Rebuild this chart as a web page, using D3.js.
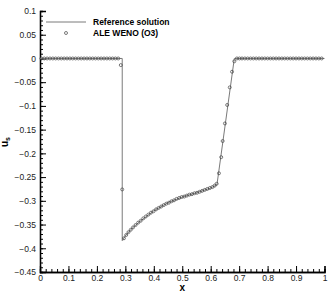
<!DOCTYPE html>
<html>
<head>
<meta charset="utf-8">
<script src="https://cdn.jsdelivr.net/npm/d3@7"></script>
<style>
  body { margin: 0; background: #fff; }
  text { font-family: "Liberation Sans", Arial, sans-serif; }
</style>
</head>
<body>
<script>
// reference solution (line)
var refX = [0, 0.289, 0.289, 0.30, 0.32, 0.35, 0.40, 0.45, 0.50, 0.55, 0.60, 0.622, 0.683, 1];
var refU = [0, 0, -0.384, -0.374, -0.36, -0.344, -0.321, -0.304, -0.292, -0.283, -0.273, -0.266, 0, 0];

// ALE WENO (O3) markers
var weX = [0.005, 0.015, 0.025, 0.035, 0.045, 0.055, 0.065, 0.075, 0.085, 0.095,
  0.105, 0.115, 0.125, 0.135, 0.145, 0.155, 0.165, 0.175, 0.185, 0.195,
  0.205, 0.215, 0.225, 0.235, 0.245, 0.255, 0.265, 0.275, 0.284, 0.289,
  0.295, 0.303, 0.311, 0.319, 0.327, 0.336, 0.345, 0.354, 0.363, 0.372,
  0.381, 0.390, 0.399, 0.408, 0.417, 0.426, 0.435, 0.444, 0.453, 0.462,
  0.471, 0.480, 0.489, 0.498, 0.507, 0.516, 0.525, 0.534, 0.543, 0.552,
  0.561, 0.570, 0.579, 0.588, 0.597, 0.606, 0.614, 0.621, 0.629, 0.637,
  0.642, 0.650, 0.658, 0.667, 0.675, 0.683, 0.692, 0.701, 0.71, 0.72,
  0.73, 0.74, 0.75, 0.76, 0.77, 0.78, 0.79, 0.80, 0.81, 0.82,
  0.83, 0.84, 0.85, 0.86, 0.87, 0.88, 0.89, 0.90, 0.91, 0.92,
  0.93, 0.94, 0.95, 0.96, 0.97, 0.98, 0.99];
var weU = [0, 0, 0, 0, 0, 0, 0, 0, 0, 0,
  0, 0, 0, 0, 0, 0, 0, 0, 0, 0,
  0, 0, 0, 0, 0, 0, 0, 0, -0.014, -0.276,
  -0.379, -0.372, -0.366, -0.361, -0.356, -0.351, -0.346, -0.342, -0.337, -0.333,
  -0.329, -0.325, -0.322, -0.318, -0.315, -0.312, -0.309, -0.306, -0.304, -0.301,
  -0.299, -0.296, -0.294, -0.292, -0.291, -0.289, -0.287, -0.286, -0.284, -0.283,
  -0.281, -0.279, -0.277, -0.275, -0.273, -0.271, -0.268, -0.264, -0.242, -0.208,
  -0.174, -0.137, -0.098, -0.061, -0.028, -0.006, 0, 0, 0, 0,
  0, 0, 0, 0, 0, 0, 0, 0, 0, 0,
  0, 0, 0, 0, 0, 0, 0, 0, 0, 0,
  0, 0, 0, 0, 0, 0, 0];

var xTicks = [0, 0.1, 0.2, 0.3, 0.4, 0.5, 0.6, 0.7, 0.8, 0.9, 1];
var yTicks = [0.1, 0.05, 0, -0.05, -0.1, -0.15, -0.2, -0.25, -0.3, -0.35, -0.4, -0.45];

var legendNames = ["Reference solution", "ALE WENO (O3)"];

const width = 332, height = 296;
const margin = {left: 40, right: 7.5, top: 11, bottom: 24};

var svg = d3.select("body").append("svg")
  .attr("width", width)
  .attr("height", height);

var x = d3.scaleLinear().domain([0, 1]).range([margin.left, width - margin.right]);
var y = d3.scaleLinear().domain([-0.45, 0.1]).range([height - margin.bottom, margin.top]);

// minor ticks
var xMinor = d3.range(0, 1.0001, 0.02);
var yMinor = d3.range(-0.45, 0.1001, 0.01);

svg.append("g")
  .attr("transform", "translate(0," + y(-0.45) + ")")
  .call(d3.axisBottom(x).tickValues(xMinor).tickSize(-3).tickFormat(""));
var xMaj = svg.append("g")
  .attr("transform", "translate(0," + y(-0.45) + ")")
  .call(d3.axisBottom(x).tickValues(xTicks).tickSize(-6).tickPadding(3)
    .tickFormat(d3.format("~g")));

svg.append("g")
  .attr("transform", "translate(" + x(0) + ",0)")
  .call(d3.axisLeft(y).tickValues(yMinor).tickSize(-3).tickFormat(""));
var yMaj = svg.append("g")
  .attr("transform", "translate(" + x(0) + ",0)")
  .call(d3.axisLeft(y).tickValues(yTicks).tickSize(-6).tickPadding(4)
    .tickFormat(d3.format("~g")));

svg.selectAll(".domain").attr("stroke", "#000").attr("stroke-width", 1.3);
svg.selectAll(".tick line").attr("stroke", "#000");
svg.selectAll(".tick text")
  .style("font-family", "'Liberation Sans', Arial, sans-serif")
  .style("font-size", "8.5px")
  .attr("fill", "#222");

// reference line
var refData = refX.map(function(d, i) { return [d, refU[i]]; });
svg.append("path")
  .datum(refData)
  .attr("fill", "none")
  .attr("stroke", "#7a7a7a")
  .attr("stroke-width", 1)
  .attr("d", d3.line().x(d => x(d[0])).y(d => y(d[1])));

// markers
var weData = weX.map(function(d, i) { return [d, weU[i]]; });
svg.selectAll("circle.pt")
  .data(weData)
  .enter()
  .append("circle")
  .attr("class", "pt")
  .attr("cx", d => x(d[0]))
  .attr("cy", d => y(d[1]))
  .attr("r", 1.5)
  .attr("fill", "none")
  .attr("stroke", "#444")
  .attr("stroke-width", 0.7);

// legend
svg.append("line")
  .attr("x1", 46).attr("x2", 86)
  .attr("y1", 22).attr("y2", 22)
  .attr("stroke", "#7a7a7a").attr("stroke-width", 1);
svg.append("circle")
  .attr("cx", 66).attr("cy", 33).attr("r", 1.5)
  .attr("fill", "none").attr("stroke", "#444").attr("stroke-width", 0.7);
svg.selectAll("text.leg")
  .data(legendNames)
  .enter()
  .append("text")
  .attr("class", "leg")
  .attr("x", 93)
  .attr("y", (d, i) => 25 + i * 11)
  .style("font-size", "8.5px")
  .style("font-weight", "bold")
  .text(d => d);

// axis labels
svg.append("text")
  .attr("x", x(0.5))
  .attr("y", 291)
  .attr("text-anchor", "middle")
  .style("font-size", "10px")
  .style("font-weight", "bold")
  .text("x");

var yl = svg.append("text")
  .attr("transform", "translate(8,147) rotate(-90)")
  .style("font-size", "10px")
  .style("font-weight", "bold");
yl.append("tspan").text("u");
yl.append("tspan").attr("dy", 2).style("font-size", "7px").text("s");
</script>
</body>
</html>
